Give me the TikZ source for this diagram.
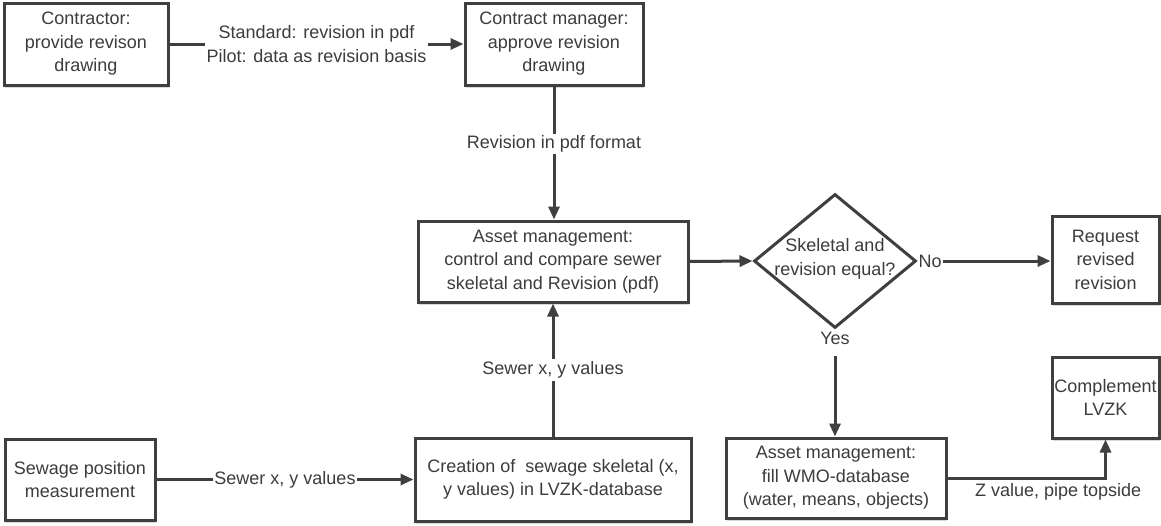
\documentclass[tikz,border=0pt]{standalone}
\usepackage{fontspec}
\setmainfont{Liberation Sans}
\usetikzlibrary{arrows.meta,shapes.geometric,shadows}
\definecolor{ink}{HTML}{3C3C3C}
\definecolor{edgec}{HTML}{3F3F3F}

\begin{document}
\begin{tikzpicture}[x=1pt,y=-1pt,
  every node/.style={font=\fontsize{18}{23.5}\selectfont, text=ink},
  box/.style={draw=edgec, line width=3pt, fill=white, align=center, inner sep=0pt,
    drop shadow={shadow xshift=0.5pt, shadow yshift=-2.5pt, opacity=0.15, fill=black}},
  decision/.style={diamond, draw=edgec, line width=3pt, fill=white, inner sep=0pt},
  arr/.style={draw=edgec, line width=3pt, -{Triangle[length=13pt,width=11pt]}},
  lbl/.style={fill=white, inner sep=1.5pt, align=center}]

% canvas
\fill[white] (0,0) rectangle (1161,525);
\useasboundingbox (0,0) rectangle (1161,525);

% process boxes
\node[box, minimum width=164pt, minimum height=82pt] (c1) at (86,44) {Contractor:\\provide revison\\drawing};
\node[box, minimum width=178pt, minimum height=82pt] (cm) at (554,44) {Contract manager:\\approve revision\\drawing};
\node[box, minimum width=270pt, minimum height=81pt] (am) at (553,261.5) {Asset management:\\control and compare sewer\\skeletal and Revision (pdf)};
\node[box, minimum width=107pt, minimum height=87pt] (rq) at (1105.5,259.5) {Request\\revised\\revision};
\node[box, minimum width=107pt, minimum height=81pt] (cl) at (1105.5,397.5) {Complement\\LVZK};
\node[box, minimum width=150pt, minimum height=81pt] (sp) at (80,479.5) {Sewage position\\measurement};
\node[box, minimum width=276pt, minimum height=83pt] (cs) at (553,479.5) {Creation of\ \ sewage skeletal (x,\\y values) in LVZK-database};
\node[box, minimum width=220pt, minimum height=80pt] (wm) at (836,478) {Asset management:\\fill WMO-database\\(water, means, objects)};

% decision
\node[decision, minimum width=162pt, minimum height=134pt] (dq) at (835,261) {};
\node[align=center, inner sep=0pt] (dqt) at (835,259) {Skeletal and\\revision equal?};
\node[anchor=west, inner sep=1pt] (no) at (dq.east) {No};
\node[anchor=north, inner sep=2pt] (yes) at (dq.south) {Yes};

% connectors
\draw[arr] (c1.east) -- node[lbl]{Standard: revision in pdf\\Pilot: data as revision basis} (cm.west);
\draw[arr] (cm.south) -- node[lbl, pos=0.43]{Revision in pdf format} (cm.south |- am.north);
\draw[arr] (cs.north) -- node[lbl, inner sep=3pt]{Sewer x, y values} (cs.north |- am.south);
\draw[arr] (sp.east) -- node[lbl]{Sewer x, y values} (cs.west);
\draw[arr] (am.east) -- (dq.west);
\draw[arr] (no.east) -- (no.east -| rq.west);
\draw[arr] ([yshift=-10pt]yes.south) -- (yes.south |- wm.north);
\draw[arr] (wm.east) -| node[pos=0.35, below, inner sep=4pt]{Z value, pipe topside} (cl.south);
\end{tikzpicture}
\end{document}
